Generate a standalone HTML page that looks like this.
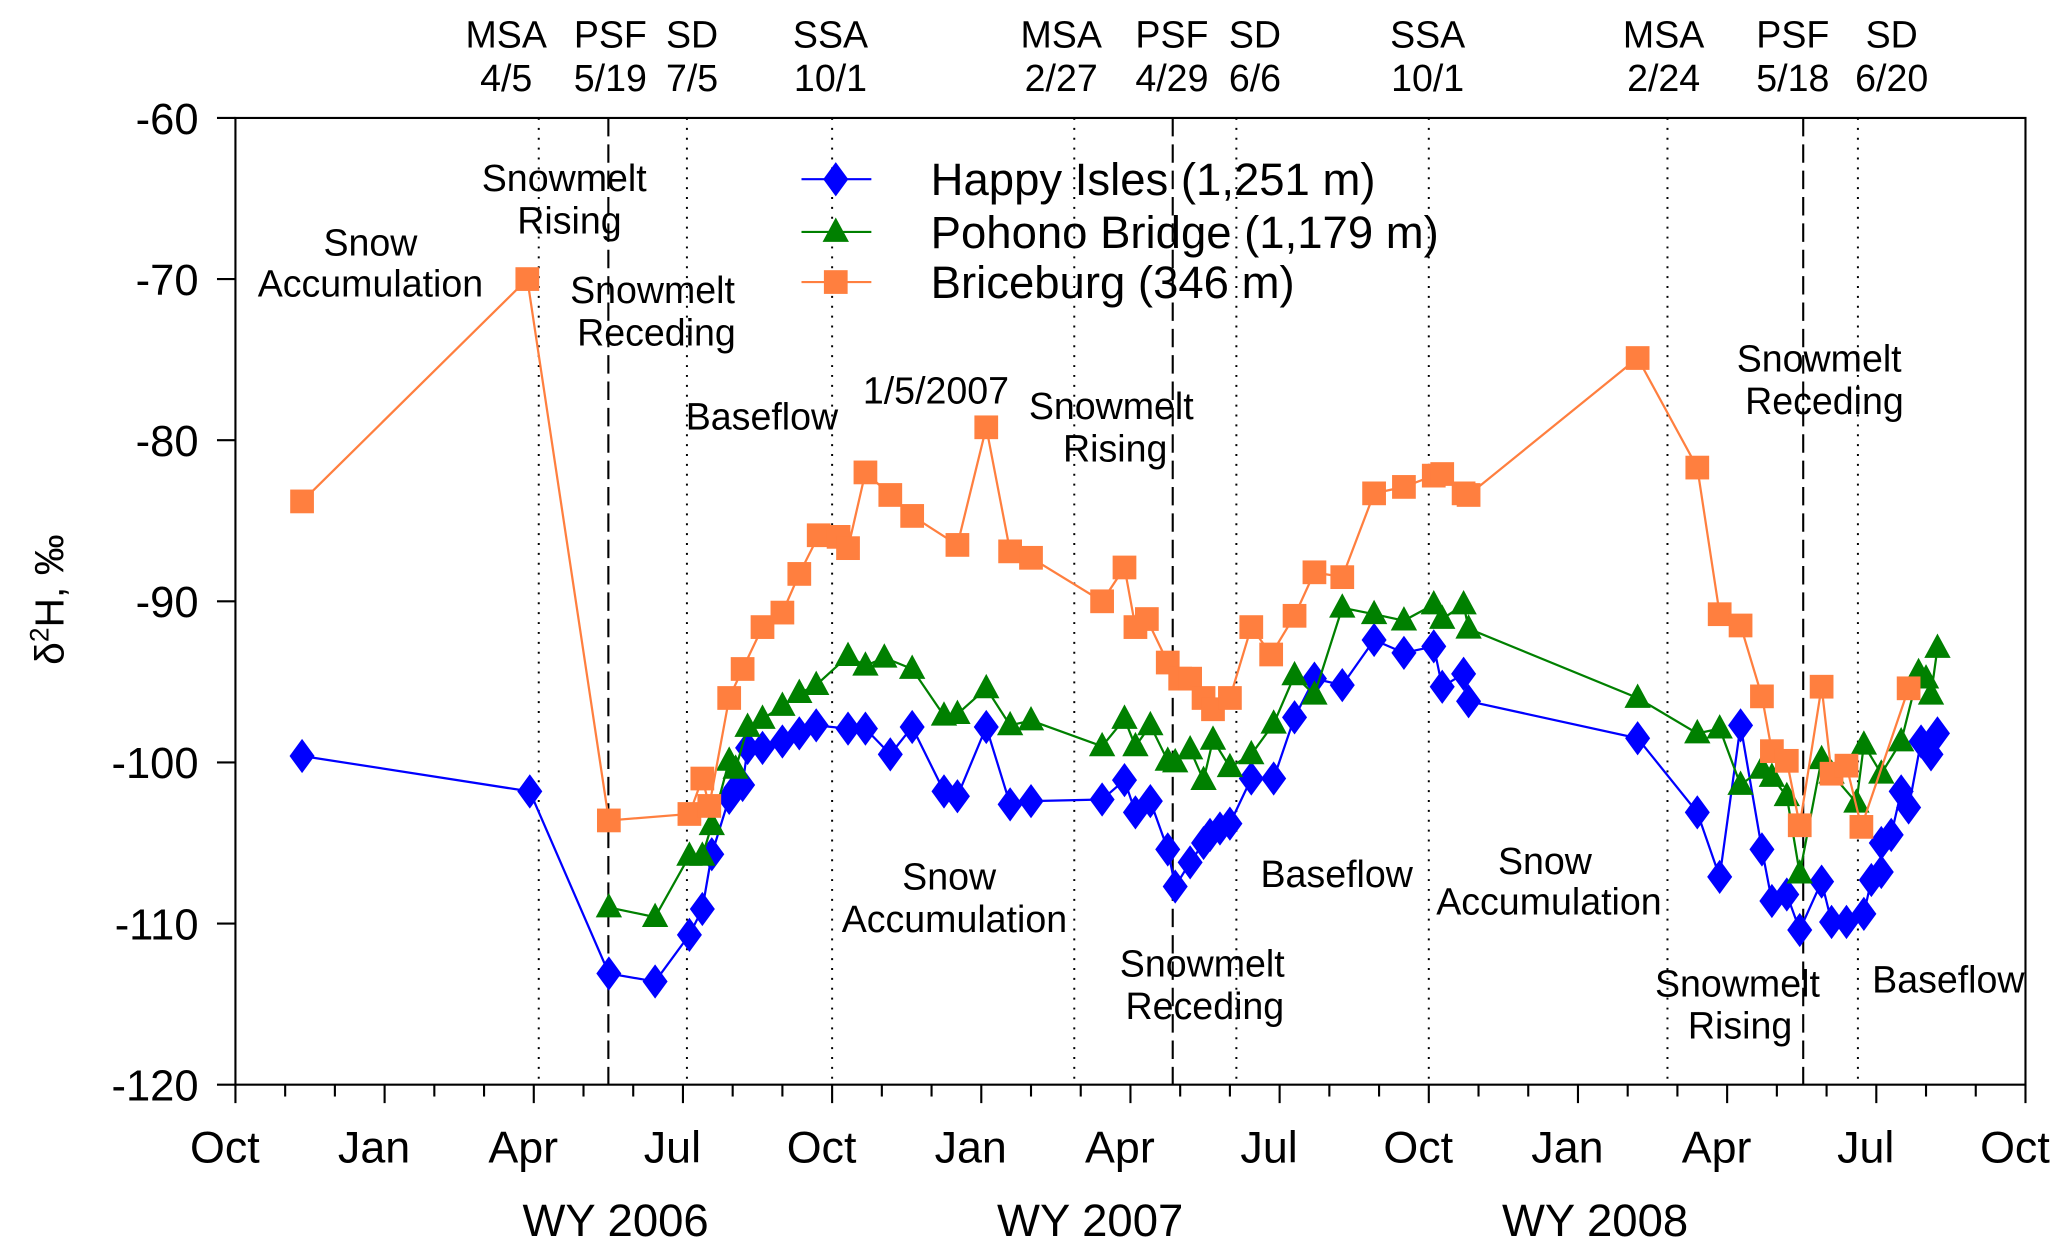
<!DOCTYPE html>
<html><head><meta charset="utf-8"><style>
html,body{margin:0;padding:0;background:#fff;}
svg{display:block;}
text{font-family:"Liberation Sans",Arial,sans-serif;fill:#000;}
</style></head><body>
<svg id="chart" width="2067" height="1256" viewBox="0 0 1568 953" preserveAspectRatio="none" xmlns="http://www.w3.org/2000/svg">
<g id="g-events"></g>
<g id="g-axes"></g>
<g id="g-series"></g>
<g id="g-text"></g>
</svg>
<script>
// months since Oct 1, 2005
const hiMonths=[1.34,5.92,7.51,8.44,9.13,9.39,9.58,9.93,10.06,10.2,10.3,10.6,11.0,11.34,11.68,12.32,12.67,13.17,13.61,14.25,14.52,15.1,15.58,16.0,17.43,17.88,18.1,18.4,18.75,18.9,19.2,19.47,19.6,19.8,20.0,20.43,20.88,21.3,21.7,22.26,22.9,23.5,24.1,24.27,24.7,24.8,28.2,29.4,29.85,30.27,30.7,30.9,31.2,31.46,31.9,32.1,32.4,32.75,32.9,33.1,33.1,33.3,33.5,33.65,33.9,34.1,34.23];
const hiValues=[-99.6,-101.8,-113.1,-113.6,-110.7,-109.1,-105.7,-102.2,-101.6,-101.4,-99.1,-99.1,-98.7,-98.2,-97.7,-97.9,-97.9,-99.5,-97.8,-101.8,-102.1,-97.8,-102.6,-102.4,-102.3,-101.1,-103.1,-102.4,-105.4,-107.7,-106.2,-105.0,-104.5,-104.1,-103.8,-101.0,-101.0,-97.2,-94.8,-95.2,-92.4,-93.2,-92.8,-95.3,-94.5,-96.2,-98.5,-103.1,-107.1,-97.7,-105.4,-108.6,-108.2,-110.4,-107.4,-109.9,-109.9,-109.4,-107.3,-106.8,-105.0,-104.5,-101.8,-102.8,-98.7,-99.5,-98.2];
const pbMonths=[7.51,8.44,9.13,9.39,9.58,9.93,10.06,10.3,10.6,11.0,11.34,11.68,12.32,12.67,13.05,13.61,14.25,14.52,15.1,15.58,16.0,17.43,17.88,18.1,18.4,18.75,18.9,19.2,19.47,19.66,20.0,20.43,20.88,21.3,21.7,22.26,22.9,23.5,24.1,24.27,24.7,24.8,28.2,29.4,29.85,30.27,30.7,30.9,31.2,31.46,31.9,32.1,32.6,32.75,33.1,33.5,33.85,34.0,34.1,34.23];
const pbValues=[-109.0,-109.6,-105.8,-105.8,-103.9,-99.9,-100.4,-97.8,-97.3,-96.5,-95.7,-95.2,-93.4,-94.0,-93.5,-94.2,-97.1,-97.0,-95.4,-97.7,-97.4,-99.0,-97.3,-99.0,-97.7,-99.9,-100.0,-99.2,-101.1,-98.6,-100.3,-99.5,-97.6,-94.6,-95.8,-90.4,-90.8,-91.2,-90.2,-91.1,-90.2,-91.7,-96.0,-98.2,-97.9,-101.4,-100.4,-100.9,-102.1,-106.9,-99.8,-100.7,-102.5,-98.9,-100.7,-98.7,-94.4,-94.8,-95.8,-92.9];
const brMonths=[1.34,5.87,7.51,9.13,9.39,9.53,9.93,10.2,10.6,11.0,11.34,11.73,12.13,12.32,12.67,13.17,13.61,14.52,15.1,15.58,16.0,17.43,17.88,18.1,18.33,18.75,19.0,19.2,19.47,19.66,20.0,20.43,20.83,21.3,21.7,22.26,22.9,23.5,24.1,24.27,24.7,24.8,28.2,29.4,29.85,30.27,30.7,30.9,31.2,31.46,31.9,32.1,32.4,32.7,33.65];
const brValues=[-83.8,-70.0,-103.6,-103.2,-101.0,-102.7,-96.0,-94.2,-91.6,-90.7,-88.3,-85.9,-86.0,-86.7,-82.0,-83.4,-84.7,-86.5,-79.2,-86.9,-87.3,-90.0,-87.9,-91.6,-91.1,-93.8,-94.8,-94.8,-96.0,-96.7,-96.0,-91.6,-93.3,-90.9,-88.2,-88.5,-83.3,-82.9,-82.2,-82.1,-83.3,-83.4,-74.9,-81.7,-90.8,-91.5,-95.9,-99.3,-99.9,-103.9,-95.3,-100.7,-100.2,-104.0,-95.4];
const yTicks=[-60,-70,-80,-90,-100,-110,-120];
const xTickLabels=["Oct","Jan","Apr","Jul","Oct","Jan","Apr","Jul","Oct","Jan","Apr","Jul","Oct"];
const eventMonths=[6.1,7.5,9.08,12.0,16.87,18.85,20.13,24.0,28.8,31.53,32.63];
const eventKinds=["dot","dash","dot","dot","dot","dash","dot","dot","dot","dash","dot"];
const eventNames=["MSA","PSF","SD","SSA","MSA","PSF","SD","SSA","MSA","PSF","SD"];
const eventDates=["4/5","5/19","7/5","10/1","2/27","4/29","6/6","10/1","2/24","5/18","6/20"];
const eventLabelX=[384,463,525,630,805,889,952,1083,1262,1360,1435];

const NS="http://www.w3.org/2000/svg";
const X0=178.6,X1=1536.5,Y0=89.5,Y1=823;
const xs=m=>X0+m*(X1-X0)/36;
const ys=v=>Y0+(v+60)*(Y1-Y0)/(-60);
function mk(tag,attrs,parent){const e=document.createElementNS(NS,tag);for(const k in attrs)e.setAttribute(k,attrs[k]);parent.appendChild(e);return e;}
const gE=document.getElementById('g-events'),gA=document.getElementById('g-axes'),gS=document.getElementById('g-series'),gT=document.getElementById('g-text');

eventMonths.forEach((m,i)=>{
  const l=mk('line',{x1:xs(m),x2:xs(m),y1:Y0,y2:Y1,stroke:'#000','stroke-width':eventKinds[i]=='dash'?1.6:1.5,'stroke-dasharray':eventKinds[i]=='dash'?'14,6':'1.5,6'},gE);
  
  
  const t1=mk('text',{x:eventLabelX[i],y:36,'text-anchor':'middle','font-size':28.5},gT);t1.textContent=eventNames[i];
  
  
  const t2=mk('text',{x:eventLabelX[i],y:69,'text-anchor':'middle','font-size':28.5},gT);t2.textContent=eventDates[i];
  
  
});

const fr=mk('rect',{x:X0,y:Y0,width:X1-X0,height:Y1-Y0,fill:'none',stroke:'#000','stroke-width':1.6},gA);


yTicks.forEach(v=>{
  mk('line',{x1:X0-14,x2:X0,y1:ys(v),y2:ys(v),stroke:'#000','stroke-width':1.6},gA);
  const t=mk('text',{x:X0-28,y:ys(v)+12,'text-anchor':'end','font-size':33},gA);t.textContent=v;
  
  
});
for(let m=0;m<=36;m++){
  const major=m%3==0;
  mk('line',{x1:xs(m),x2:xs(m),y1:Y1,y2:Y1+(major?14:9),stroke:'#000','stroke-width':1.6},gA);
}
xTickLabels.forEach((s,i)=>{
  const t=mk('text',{x:xs(i*3)-8,y:882,'text-anchor':'middle','font-size':34},gA);t.textContent=s;
  
  
});
[["WY 2006",467],["WY 2007",827],["WY 2008",1210]].forEach(a=>{
  const t=mk('text',{x:a[1],y:938,'text-anchor':'middle','font-size':34.5},gA);t.textContent=a[0];
  
  
});
const yt=mk('text',{x:0,y:0,'text-anchor':'middle','font-size':31,transform:'translate(48,455) rotate(-90)'},gA);
yt.innerHTML='δ<tspan baseline-shift="super" font-size="20">2</tspan>H, ‰';



function marker(kind,x,y,color,parent){
  if(kind=='d')return mk('polygon',{points:`${x},${y-13} ${x+9.5},${y} ${x},${y+13} ${x-9.5},${y}`,fill:color},parent);
  if(kind=='t')return mk('polygon',{points:`${x},${y-11} ${x+10},${y+7.5} ${x-10},${y+7.5}`,fill:color},parent);
  return mk('rect',{x:x-9,y:y-9,width:18,height:18,fill:color},parent);
}
function series(ms,vs,color,kind,name){
  const g=mk('g',{},gS);
  
  
  const pts=ms.map((m,i)=>xs(m)+','+ys(vs[i])).join(' ');
  mk('polyline',{points:pts,fill:'none',stroke:color,'stroke-width':1.7},g);
  ms.forEach((m,i)=>{const p=marker(kind,xs(m),ys(vs[i]),color,g);
    
    });
}
series(hiMonths,hiValues,'#0000ff','d','happy-isles-series');
series(pbMonths,pbValues,'#008000','t','pohono-bridge-series');
series(brMonths,brValues,'#ff7f3f','s','briceburg-series');

const leg=mk('g',{},gT);


[["Happy Isles (1,251 m)",'#0000ff','d',136],["Pohono Bridge (1,179 m)",'#008000','t',176],["Briceburg (346 m)",'#ff7f3f','s',214]].forEach(a=>{
  const e=mk('g',{},leg);
  
  
  mk('line',{x1:608,x2:661,y1:a[3],y2:a[3],stroke:a[1],'stroke-width':1.6},e);
  marker(a[2],634,a[3],a[1],e);
  const t=mk('text',{x:706,y:a[3]+12,'font-size':34.5},e);t.textContent=a[0];
});

const notes=[["Snow",281,194],["Accumulation",281,225],["Snowmelt",428,145],["Rising",432,177],["Snowmelt",495,230],["Receding",498,262],["Baseflow",578,326],["1/5/2007",710,306],["Snowmelt",843,318],["Rising",846,350],["Snow",720,675],["Accumulation",724,707],["Baseflow",1014,673],["Snowmelt",912,741],["Receding",914,773],["Snow",1172,663],["Accumulation",1175,694],["Snowmelt",1380,282],["Receding",1384,314],["Snowmelt",1318,756],["Rising",1320,788],["Baseflow",1478,753]];
notes.forEach(n=>{
  const t=mk('text',{x:n[1],y:n[2],'text-anchor':'middle','font-size':28.5},gT);t.textContent=n[0];
  
  
});
</script>
</body></html>
